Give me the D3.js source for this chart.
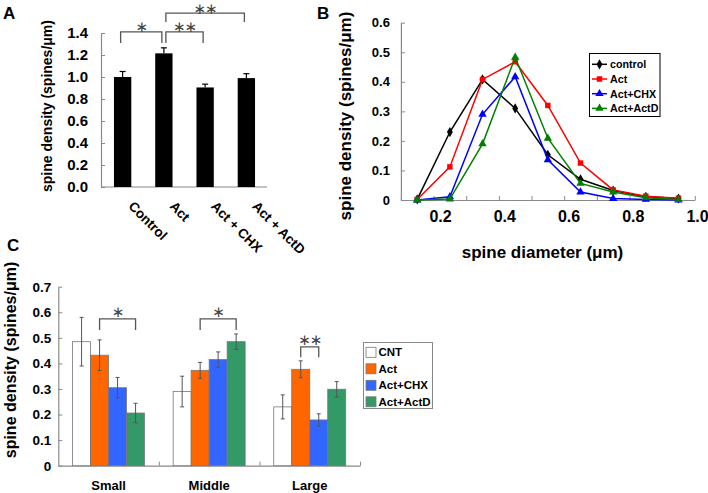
<!DOCTYPE html>
<html><head><meta charset="utf-8">
<script src="https://cdn.jsdelivr.net/npm/d3@7"></script>
<style>body{margin:0;background:#fff} svg{display:block}</style>
</head><body><svg id="c" width="708" height="493"></svg>
<script>
// ---------- Panel A data ----------
const catsA = ["Control", "Act", "Act + CHX", "Act + ActD"];
const meanA = [1.00, 1.215, 0.905, 0.99];
const semA = [0.05, 0.05, 0.03, 0.04];
const yTicksA = [0, 0.2, 0.4, 0.6, 0.8, 1.0, 1.2, 1.4];
const sigA = [
  {from: "Control", to: "Act", label: "∗", top: 1.41, leg: 1.31},
  {from: "Act", to: "Act + CHX", label: "∗∗", top: 1.41, leg: 1.31},
  {from: "Act", to: "Act + ActD", label: "∗∗", top: 1.58, leg: 1.5}
];
// ---------- Panel B data ----------
const diamB = [0.125, 0.225, 0.325, 0.425, 0.525, 0.625, 0.725, 0.825, 0.925];
const namesB = ["control", "Act", "Act+CHX", "Act+ActD"];
const controlB = [0.002, 0.23, 0.408, 0.31, 0.153, 0.07, 0.032, 0.011, 0.005];
const actB = [0.002, 0.112, 0.408, 0.468, 0.32, 0.125, 0.034, 0.013, 0.006];
const chxB = [0, 0.011, 0.29, 0.417, 0.136, 0.027, 0.005, 0.002, 0];
const actdB = [0, 0.003, 0.19, 0.483, 0.209, 0.056, 0.027, 0.008, 0.001];
const xTicksB = [0.2, 0.4, 0.6, 0.8, 1.0];
const yTicksB = [0, 0.1, 0.2, 0.3, 0.4, 0.5, 0.6];
// ---------- Panel C data ----------
const groupsC = ["Small", "Middle", "Large"];
const seriesC = ["CNT", "Act", "Act+CHX", "Act+ActD"];
const cntC = [0.485, 0.29, 0.23];
const cntErrC = [0.095, 0.06, 0.047];
const actC = [0.432, 0.373, 0.377];
const actErrC = [0.06, 0.031, 0.033];
const chxC = [0.305, 0.415, 0.179];
const chxErrC = [0.04, 0.03, 0.024];
const actdC = [0.206, 0.485, 0.299];
const actdErrC = [0.038, 0.03, 0.03];
const yTicksC = [0, 0.1, 0.2, 0.3, 0.4, 0.5, 0.6, 0.7];
const sigC = [
  {group: "Small", from: "Act", to: "Act+ActD", label: "∗", top: 0.574, leg: 0.531},
  {group: "Middle", from: "Act", to: "Act+ActD", label: "∗", top: 0.574, leg: 0.531},
  {group: "Large", from: "Act", to: "Act+CHX", label: "∗∗", top: 0.465, leg: 0.424}
];

const FONT = "Arial, 'Liberation Sans', sans-serif";
const STAR_FONT = "'DejaVu Sans', sans-serif";
const svg = d3.select("#c").style("font-family", FONT);

function styleAxis(g, fs) {
  g.select(".domain").attr("stroke", "#8a8a8a").attr("stroke-width", 1.2);
  g.selectAll(".tick line").attr("stroke", "#8a8a8a");
  g.selectAll(".tick text").attr("fill", "#000").style("font-weight", "bold").style("font-size", fs + "px").style("font-family", FONT);
}
function panelLabel(t, x, y) {
  svg.append("text").attr("x", x).attr("y", y).text(t).style("font-weight", "bold").style("font-size", "17px");
}
function stars(g, x, y, label) {
  g.append("text").attr("x", x).attr("y", y).attr("text-anchor", "middle").attr("dominant-baseline", "central").text(label)
    .style("font-family", STAR_FONT).style("font-size", "15px").attr("fill", "#444").style("letter-spacing", "-1px");
}

// ================= Panel A =================
{
  const xA = d3.scaleBand().domain(catsA).range([102, 267]).paddingInner(0.58).paddingOuter(0.29);
  const yA = d3.scaleLinear().domain([0, 1.4]).range([187, 33]);
  const g = svg.append("g");
  const ay = g.append("g").attr("transform", "translate(101,0)")
    .call(d3.axisLeft(yA).tickValues(yTicksA).tickFormat(d3.format(".1f")).tickSizeInner(-4).tickSizeOuter(0).tickPadding(13));
  styleAxis(ay, 15);
  g.append("line").attr("x1", 101).attr("x2", 267).attr("y1", yA(0)).attr("y2", yA(0)).attr("stroke", "#8a8a8a").attr("stroke-width", 1.2);
  const bw = xA.bandwidth();
  catsA.forEach((c, i) => {
    const cx = xA(c) + bw / 2;
    g.append("line").attr("x1", cx).attr("x2", cx).attr("y1", yA(meanA[i])).attr("y2", yA(meanA[i] + semA[i])).attr("stroke", "#000").attr("stroke-width", 1.2);
    g.append("line").attr("x1", cx - 3).attr("x2", cx + 3).attr("y1", yA(meanA[i] + semA[i])).attr("y2", yA(meanA[i] + semA[i])).attr("stroke", "#000").attr("stroke-width", 1.2);
    g.append("rect").attr("x", xA(c)).attr("y", yA(meanA[i])).attr("width", bw).attr("height", yA(0) - yA(meanA[i])).attr("fill", "#000");
    g.append("text").attr("transform", `translate(${cx + 5},207) rotate(45)`).text(c)
      .style("font-weight", "bold").style("font-size", "13.5px");
  });
  sigA.forEach(s => {
    const x1 = xA(s.from) + bw / 2 + 2 - (s.from === "Control" ? 4 : 0), x2 = xA(s.to) + bw / 2 - 2;
    g.append("path").attr("d", `M${x1},${yA(s.leg)}V${yA(s.top)}H${x2}V${yA(s.leg)}`).attr("fill", "none").attr("stroke", "#555").attr("stroke-width", 1.3);
    stars(g, (x1 + x2) / 2, yA(s.top) - 4.5, s.label);
  });
  g.append("text").attr("transform", "translate(47,106) rotate(-90)").attr("text-anchor", "middle").attr("dominant-baseline", "central")
    .text("spine density (spines/μm)").style("font-weight", "bold").style("font-size", "14px");
  panelLabel("A", 3, 19);
}

// ================= Panel B =================
{
  const xB = d3.scaleLinear().domain([0.075, 0.975]).range([400.9, 694.8]);
  const xLabB = d3.scaleLinear().domain([0.2, 1.0]).range([440, 697]);
  const yB = d3.scaleLinear().domain([0, 0.6]).range([200, 22.7]);
  const g = svg.append("g");
  const ay = g.append("g").attr("transform", "translate(400.9,0)")
    .call(d3.axisLeft(yB).tickValues(yTicksB).tickFormat(d => d === 0 ? "0" : d3.format(".1f")(d)).tickSizeInner(-4).tickSizeOuter(0).tickPadding(11));
  styleAxis(ay, 13);
  const edges = diamB.map(d => d - 0.05).concat([diamB[diamB.length - 1] + 0.05]);
  const ax = g.append("g").attr("transform", "translate(0,200)")
    .call(d3.axisBottom(xB).tickValues(edges).tickFormat("").tickSizeInner(-4).tickSizeOuter(0));
  styleAxis(ax, 16);
  const axl = g.append("g").attr("transform", "translate(0,200)")
    .call(d3.axisBottom(xLabB).tickValues(xTicksB).tickFormat(d3.format(".1f")).tickSize(0).tickPadding(11));
  axl.select(".domain").remove();
  styleAxis(axl, 16);

  const seriesB = [
    {name: namesB[0], vals: controlB, color: "#000000", sym: d3.symbolDiamond, size: 30},
    {name: namesB[1], vals: actB, color: "#ff0000", sym: d3.symbolSquare, size: 30},
    {name: namesB[2], vals: chxB, color: "#0000ff", sym: d3.symbolTriangle, size: 30},
    {name: namesB[3], vals: actdB, color: "#008000", sym: d3.symbolTriangle, size: 30}
  ];
  const line = d3.line().x((d, i) => xB(diamB[i])).y(d => yB(d));
  seriesB.forEach(s => {
    g.append("path").attr("d", line(s.vals)).attr("fill", "none").attr("stroke", s.color).attr("stroke-width", 1.5);
    s.vals.forEach((v, i) => {
      g.append("path").attr("d", d3.symbol(s.sym, s.size)()).attr("transform", `translate(${xB(diamB[i])},${yB(v)})`).attr("fill", s.color);
    });
  });
  // legend
  const lg = g.append("g");
  lg.append("rect").attr("x", 589.5).attr("y", 53.5).attr("width", 70.5).attr("height", 63).attr("fill", "#fff").attr("stroke", "#000").attr("stroke-width", 1);
  seriesB.forEach((s, i) => {
    const y = 64.3 + i * 14.7;
    lg.append("line").attr("x1", 592).attr("x2", 607).attr("y1", y).attr("y2", y).attr("stroke", s.color).attr("stroke-width", 1.5);
    lg.append("path").attr("d", d3.symbol(s.sym, s.size)()).attr("transform", `translate(599.5,${y})`).attr("fill", s.color);
    lg.append("text").attr("x", 610).attr("y", y).attr("dominant-baseline", "central").text(s.name)
      .style("font-weight", "bold").style("font-size", "10.7px");
  });
  g.append("text").attr("transform", "translate(345,116) rotate(-90)").attr("text-anchor", "middle").attr("dominant-baseline", "central")
    .text("spine density (spines/μm)").style("font-weight", "bold").style("font-size", "17px");
  g.append("text").attr("x", 542.5).attr("y", 258).attr("text-anchor", "middle")
    .text("spine diameter (μm)").style("font-weight", "bold").style("font-size", "17px");
  panelLabel("B", 317, 19);
}

// ================= Panel C =================
{
  const x0 = d3.scaleBand().domain(groupsC).range([58.3, 360]).paddingInner(0.2843).paddingOuter(0.142);
  const x1 = d3.scaleBand().domain(seriesC).range([0, x0.bandwidth()]);
  const yC = d3.scaleLinear().domain([0, 0.7]).range([465.7, 286.7]);
  const g = svg.append("g");
  const ay = g.append("g").attr("transform", "translate(58.3,0)")
    .call(d3.axisLeft(yC).tickValues(yTicksC).tickFormat(d => d === 0 ? "0" : d3.format(".1f")(d)).tickSizeInner(-4).tickSizeOuter(0).tickPadding(7));
  styleAxis(ay, 13.5);
  const step = x0.step();
  const bounds = groupsC.map((d, i) => 58.3 + step * (i + 1));
  const xs = d3.scaleLinear().domain([58.3, 360]).range([58.3, 360]);
  const ax = g.append("g").attr("transform", `translate(0,${yC(0)})`)
    .call(d3.axisBottom(xs).tickValues(bounds).tickFormat("").tickSizeInner(-4).tickSizeOuter(0));
  styleAxis(ax, 13);
  groupsC.forEach(gr => {
    g.append("text").attr("x", x0(gr) + x0.bandwidth() / 2).attr("y", 490).attr("text-anchor", "middle").text(gr)
      .style("font-weight", "bold").style("font-size", "13px");
  });
  const dataC = [
    {name: seriesC[0], vals: cntC, errs: cntErrC, color: "#ffffff"},
    {name: seriesC[1], vals: actC, errs: actErrC, color: "#ff6600"},
    {name: seriesC[2], vals: chxC, errs: chxErrC, color: "#3366ff"},
    {name: seriesC[3], vals: actdC, errs: actdErrC, color: "#339966"}
  ];
  const bw = x1.bandwidth();
  dataC.forEach(s => {
    groupsC.forEach((gr, i) => {
      const x = x0(gr) + x1(s.name);
      g.append("rect").attr("x", x).attr("y", yC(s.vals[i])).attr("width", bw).attr("height", yC(0) - yC(s.vals[i]))
        .attr("fill", s.color).attr("stroke", "#777").attr("stroke-width", 0.8);
    });
  });
  dataC.forEach(s => {
    groupsC.forEach((gr, i) => {
      const cx = x0(gr) + x1(s.name) + bw / 2;
      const hi = yC(s.vals[i] + s.errs[i]), lo = yC(s.vals[i] - s.errs[i]);
      g.append("path").attr("d", `M${cx},${hi}V${lo}M${cx - 2},${hi}H${cx + 2}M${cx - 2},${lo}H${cx + 2}`)
        .attr("stroke", "#555").attr("stroke-width", 1).attr("fill", "none");
    });
  });
  sigC.forEach(s => {
    const a = x0(s.group) + x1(s.from) + bw / 2, b = x0(s.group) + x1(s.to) + bw / 2;
    g.append("path").attr("d", `M${a},${yC(s.leg)}V${yC(s.top)}H${b}V${yC(s.leg)}`).attr("fill", "none").attr("stroke", "#555").attr("stroke-width", 1.3);
    stars(g, (a + b) / 2, yC(s.top) - 6.5, s.label);
  });
  // legend
  const lg = g.append("g");
  lg.append("rect").attr("x", 363.5).attr("y", 342.5).attr("width", 69).attr("height", 66).attr("fill", "#fff").attr("stroke", "#888").attr("stroke-width", 1);
  dataC.forEach((s, i) => {
    const y = 352.3 + i * 16.5;
    lg.append("rect").attr("x", 366).attr("y", y - 5).attr("width", 10).attr("height", 10).attr("fill", s.color).attr("stroke", "#777").attr("stroke-width", 0.8);
    lg.append("text").attr("x", 378.5).attr("y", y).attr("dominant-baseline", "central").text(s.name)
      .style("font-weight", "bold").style("font-size", "11.5px");
  });
  g.append("text").attr("transform", "translate(10,360) rotate(-90)").attr("text-anchor", "middle").attr("dominant-baseline", "central")
    .text("spine density (spines/μm)").style("font-weight", "bold").style("font-size", "16px");
  panelLabel("C", 7, 251);
}
</script></body></html>
